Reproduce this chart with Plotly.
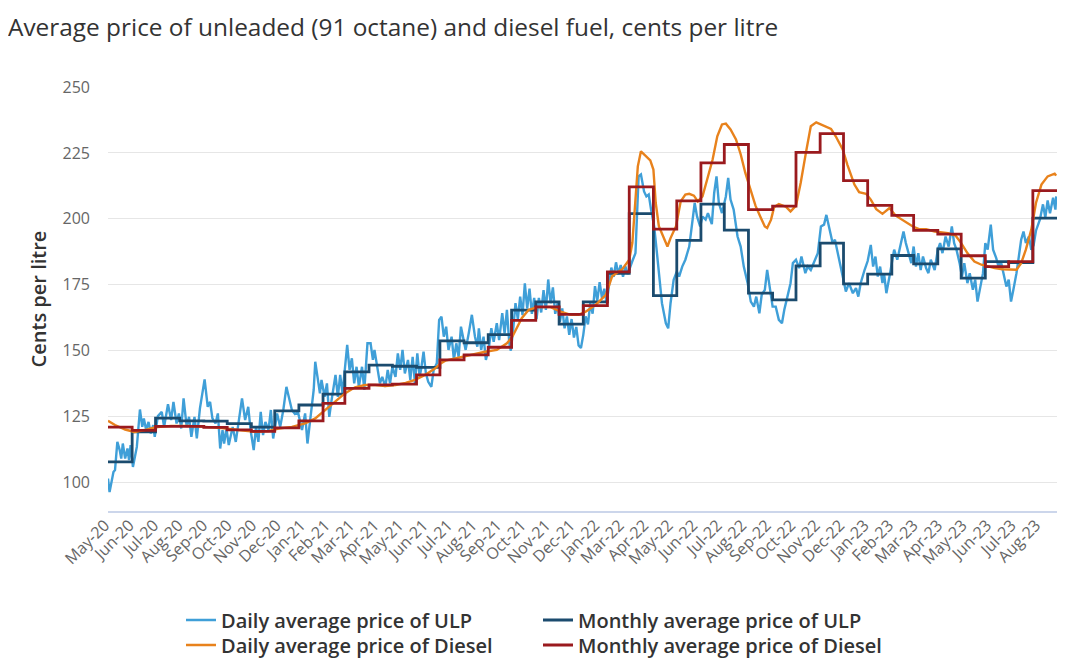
import numpy as np
import pandas as pd
import plotly.graph_objects as go

DAILY_START = "2020-05-01"

# Daily ULP: day number since DAILY_START and price (c/L)
ulp_daily_day = [
    0, 2, 7, 9, 12, 15, 17, 19, 22, 25, 27, 29, 32, 37, 41, 44, 46, 49, 52, 55, 58, 60,
    64, 69, 72, 77, 81, 84, 88, 91, 94, 97, 101, 104, 107, 111, 114, 118, 124, 128, 131,
    134, 138, 141, 144, 147, 149, 152, 155, 160, 164, 168, 172, 176, 180, 183, 187, 190,
    193, 196, 199, 202, 206, 209, 212, 217, 221, 225, 229, 232, 236, 240, 244, 249, 253,
    256, 259, 264, 266, 269, 272, 274, 278, 281, 284, 287, 292, 295, 298, 301, 304, 307,
    310, 313, 316, 319, 322, 326, 329, 333, 337, 340, 342, 346, 349, 352, 356, 359, 362,
    365, 369, 372, 375, 378, 381, 385, 388, 391, 394, 397, 400, 402, 405, 408, 411, 415,
    418, 422, 425, 428, 431, 434, 437, 441, 444, 447, 450, 453, 456, 459, 463, 467, 471,
    474, 476, 479, 482, 485, 489, 492, 495, 499, 502, 506, 509, 512, 515, 517, 520, 523,
    526, 529, 532, 535, 538, 541, 544, 547, 550, 553, 556, 559, 562, 565, 568, 571, 574,
    577, 580, 583, 586, 589, 592, 595, 598, 601, 604, 607, 610, 613, 616, 619, 622, 625,
    628, 631, 634, 637, 640, 643, 646, 649, 652, 655, 658, 661, 664, 667, 670, 673, 677,
    681, 684, 688, 691, 694, 697, 701, 705, 708, 711, 716, 719, 722, 726, 730, 733, 737,
    741, 746, 750, 753, 756, 760, 763, 767, 770, 775, 778, 781, 784, 788, 793, 796, 799,
    803, 808, 812, 816, 821, 825, 829, 832, 836, 839, 843, 846, 849, 853, 857, 861, 865,
    868, 872, 876, 879, 883, 887, 890, 895, 898, 902, 906, 911, 915, 919, 922, 926, 930,
    933, 938, 943, 947, 951, 956, 960, 963, 966, 971, 975, 979, 982, 985, 988, 991, 994,
    996, 999, 1003, 1006, 1009, 1013, 1018, 1021, 1024, 1028, 1031, 1034, 1037, 1040,
    1043, 1046, 1050, 1053, 1056, 1061, 1065, 1068, 1071, 1075, 1079, 1083, 1086, 1089,
    1093, 1096, 1099, 1103, 1106, 1110, 1113, 1116, 1119, 1123, 1126, 1129, 1133, 1136,
    1140, 1143, 1146, 1149, 1153, 1156, 1159, 1162, 1166, 1169, 1172, 1175, 1178, 1182,
    1185, 1188, 1191, 1196, 1200, 1203, 1206, 1209, 1213, 1216, 1217,
]
ulp_daily_price = [
    101.5, 96.4, 104.0, 104.7, 115.4, 112.3, 109.1, 114.8, 109.1, 112.9, 108.5, 114.2,
    105.9, 113.5, 127.7, 121.1, 124.3, 119.9, 123.0, 118.6, 121.8, 117.3, 125.2, 126.8,
    121.1, 129.7, 123.7, 130.6, 122.4, 126.2, 120.5, 131.9, 121.1, 124.9, 117.3, 124.9,
    116.7, 128.1, 139.1, 128.7, 130.6, 124.3, 122.4, 126.2, 112.9, 119.9, 114.8, 120.5,
    114.2, 121.1, 115.4, 123.0, 131.9, 123.7, 128.7, 119.9, 112.3, 121.1, 115.4, 126.8,
    118.0, 123.0, 119.9, 127.5, 116.7, 126.2, 121.1, 127.5, 136.3, 132.5, 127.5, 126.0,
    126.5, 119.9, 126.2, 114.8, 122.4, 135.1, 145.8, 140.1, 133.8, 138.9, 132.5, 137.6,
    124.9, 131.3, 140.8, 132.5, 140.8, 133.8, 142.7, 152.2, 142.7, 147.1, 137.6, 143.9,
    136.3, 143.9, 135.1, 152.8, 152.8, 146.5, 150.3, 142.7, 137.6, 140.1, 136.3, 142.7,
    137.6, 143.9, 140.1, 149.0, 142.7, 150.3, 141.4, 146.5, 138.9, 147.7, 137.6, 149.0,
    140.1, 143.2, 149.6, 141.4, 138.2, 136.3, 142.7, 145.2, 161.7, 162.9, 155.3, 159.1,
    150.3, 155.3, 146.5, 152.8, 147.7, 159.1, 154.1, 150.3, 156.6, 163.6, 155.3, 151.5,
    158.5, 150.3, 155.3, 146.5, 151.5, 158.5, 153.4, 160.4, 154.0, 164.2, 156.6, 165.5,
    153.0, 150.0, 158.0, 168.0, 162.0, 170.5, 163.5, 175.5, 166.0, 173.5, 164.0, 170.0,
    162.0, 170.0, 164.5, 173.0, 165.5, 177.0, 168.0, 174.0, 164.0, 168.0, 161.0, 166.0,
    158.5, 163.0, 156.0, 162.0, 155.0, 159.0, 152.0, 151.0, 156.0, 163.0, 160.0, 168.0,
    164.0, 174.5, 169.0, 176.0, 170.0, 173.5, 168.0, 176.0, 181.5, 178.0, 183.5, 179.0,
    182.5, 178.0, 182.0, 179.0, 182.0, 184.0, 187.0, 216.1, 216.8, 210.4, 208.5, 209.2,
    203.5, 197.1, 185.7, 175.6, 168.0, 160.4, 158.5, 168.0, 176.9, 180.0, 178.1, 181.9,
    184.5, 189.5, 198.4, 206.0, 200.9, 197.1, 200.9, 199.7, 202.2, 198.0, 209.8, 216.1,
    206.0, 202.2, 208.5, 215.5, 207.3, 203.5, 193.3, 189.5, 181.9, 175.6, 168.6, 166.7,
    170.5, 164.2, 171.2, 173.1, 180.6, 174.3, 166.7, 166.7, 161.7, 160.4, 165.5, 170.5,
    175.6, 183.2, 184.5, 181.3, 185.7, 179.4, 181.9, 180.6, 183.2, 187.0, 197.1, 197.8,
    201.5, 195.9, 190.8, 192.1, 185.7, 178.1, 172.4, 175.6, 171.8, 173.7, 170.5, 175.6,
    180.6, 184.0, 190.1, 181.9, 185.7, 178.1, 181.9, 175.6, 179.4, 171.8, 178.1, 183.2,
    188.3, 184.5, 190.8, 195.2, 190.8, 187.0, 183.2, 189.5, 181.9, 187.0, 180.6, 185.7,
    181.3, 179.4, 184.5, 180.6, 188.3, 190.8, 187.0, 193.3, 189.5, 197.1, 190.8, 188.3,
    183.2, 178.1, 183.2, 175.6, 179.4, 173.1, 176.9, 168.6, 173.1, 179.4, 190.8, 188.3,
    197.8, 188.3, 185.1, 181.9, 183.8, 179.4, 174.3, 176.9, 168.6, 173.1, 179.4, 185.7,
    192.1, 195.2, 190.8, 193.3, 188.3, 190.0, 195.5, 199.7, 205.5, 200.5, 207.0, 202.1,
    208.0, 203.5, 208.5,
]

# Daily diesel: day number since DAILY_START and price (c/L)
diesel_daily_day = [
    0, 9, 22, 34, 47, 60, 81, 103, 124, 146, 167, 189, 206, 219, 236, 253, 266, 279, 292,
    304, 317, 330, 343, 356, 369, 382, 394, 407, 420, 427, 433, 446, 459, 471, 484, 499,
    512, 519, 525, 531, 540, 551, 568, 581, 594, 604, 613, 626, 639, 647, 660, 669, 673,
    677, 680, 684, 690, 696, 700, 703, 707, 714, 718, 722, 729, 735, 741, 746, 752, 757,
    763, 769, 776, 782, 788, 793, 799, 806, 812, 818, 825, 831, 838, 843, 846, 851, 855,
    861, 870, 876, 883, 889, 896, 902, 909, 915, 928, 934, 943, 949, 958, 964, 973, 979,
    986, 994, 1003, 1011, 1022, 1033, 1041, 1050, 1061, 1069, 1078, 1088, 1095, 1103,
    1112, 1121, 1129, 1138, 1148, 1159, 1166, 1172, 1178, 1185, 1191, 1198, 1206, 1215,
    1217,
]
diesel_daily_price = [
    123.4, 121.8, 120.1, 119.2, 119.9, 120.9, 121.5, 121.5, 121.1, 120.7, 119.9, 119.2,
    119.5, 120.5, 121.1, 122.4, 124.3, 127.5, 130.6, 133.8, 136.1, 137.0, 137.0, 136.6,
    137.0, 137.8, 138.9, 140.8, 143.3, 145.2, 146.2, 147.1, 148.0, 148.7, 149.6, 150.3,
    152.8, 155.3, 159.1, 162.3, 165.5, 166.5, 166.5, 164.8, 163.6, 163.6, 164.8, 167.4,
    171.2, 178.2, 180.9, 184.5, 190.9, 208.5, 219.9, 225.6, 224.0, 222.2, 218.7, 206.0,
    197.2, 192.1, 189.5, 192.7, 197.2, 206.6, 209.2, 209.5, 208.8, 206.6, 208.5, 214.9,
    222.5, 231.3, 235.8, 236.1, 233.9, 230.1, 224.5, 217.4, 211.1, 205.0, 200.3, 197.1,
    196.5, 199.7, 204.5, 205.6, 204.6, 202.8, 205.0, 213.6, 225.5, 235.1, 236.6, 235.8,
    234.1, 231.3, 226.3, 220.5, 213.0, 210.1, 209.5, 207.3, 203.7, 201.9, 204.1, 201.2,
    199.0, 197.1, 196.1, 196.1, 195.2, 194.8, 194.6, 193.6, 190.8, 187.0, 183.8, 182.6,
    181.9, 181.3, 180.9, 180.7, 180.7, 183.2, 188.3, 195.9, 206.0, 213.0, 216.1, 217.1,
    216.4,
]

# Monthly averages, May 2020 .. Aug 2023
MONTH_START = "2020-05-01"
ulp_monthly = [
    107.8, 119.2, 124.4, 123.4, 123.3, 122.3, 121.0, 127.2,
    129.4, 133.5, 142.0, 144.5, 144.1, 143.7, 153.7, 153.0, 156.1, 165.4, 168.5, 160.1,
    168.5, 179.3, 202.0, 170.9, 191.8, 205.6, 195.7, 171.8, 169.3, 182.2, 190.8, 175.3,
    179.0, 186.1, 182.9, 188.6, 177.5, 183.8, 183.4, 200.3,
]
diesel_monthly = [
    121.0, 119.8, 121.3, 121.3, 120.9, 120.0, 119.4, 120.7,
    123.4, 130.0, 135.7, 137.0, 137.3, 140.8, 146.5, 148.4, 151.3, 161.5, 166.6, 163.8,
    167.1, 179.9, 212.1, 196.1, 206.8, 221.2, 228.2, 203.5, 204.8, 225.2, 232.3, 214.5,
    205.1, 201.3, 195.6, 194.2, 186.0, 181.9, 183.8, 210.7,
]

tick_labels = [
    "May-20", "Jun-20", "Jul-20", "Aug-20", "Sep-20", "Oct-20", "Nov-20", "Dec-20",
    "Jan-21", "Feb-21", "Mar-21", "Apr-21", "May-21", "Jun-21", "Jul-21", "Aug-21",
    "Sep-21", "Oct-21", "Nov-21", "Dec-21", "Jan-22", "Mar-22", "Apr-22", "May-22",
    "Jun-22", "Jul-22", "Aug-22", "Sep-22", "Oct-22", "Nov-22", "Dec-22", "Jan-23",
    "Feb-23", "Mar-23", "Apr-23", "May-23", "Jun-23", "Jul-23", "Aug-23",
]
y_ticks = [100, 125, 150, 175, 200, 225, 250]

names = [
    "Daily average price of ULP",
    "Monthly average price of ULP",
    "Daily average price of Diesel",
    "Monthly average price of Diesel",
]
colors = ["#3f9fd8", "#1b4b6e", "#e8821c", "#9a1a1e"]

start = pd.Timestamp(DAILY_START)
ulp_x = start + pd.to_timedelta(ulp_daily_day, unit="D")
diesel_x = start + pd.to_timedelta(diesel_daily_day, unit="D")

months = pd.date_range(MONTH_START, periods=len(ulp_monthly), freq="MS")
month_end = months[-1] + pd.offsets.MonthBegin(1)
step_x = list(months) + [month_end]
ulp_step_y = ulp_monthly + [ulp_monthly[-1]]
diesel_step_y = diesel_monthly + [diesel_monthly[-1]]

fig = go.Figure()
fig.add_trace(go.Scatter(x=ulp_x, y=ulp_daily_price, mode="lines", name=names[0],
                         legend="legend", line=dict(color=colors[0], width=2.4)))
fig.add_trace(go.Scatter(x=step_x, y=ulp_step_y, mode="lines", name=names[1],
                         legend="legend", line=dict(color=colors[1], width=2.8, shape="hv")))
fig.add_trace(go.Scatter(x=diesel_x, y=diesel_daily_price, mode="lines", name=names[2],
                         legend="legend2", line=dict(color=colors[2], width=2.4)))
fig.add_trace(go.Scatter(x=step_x, y=diesel_step_y, mode="lines", name=names[3],
                         legend="legend2", line=dict(color=colors[3], width=2.8, shape="hv")))

tick_first = pd.Timestamp("2020-05-02")
tick_vals = tick_first + pd.to_timedelta(np.arange(len(tick_labels)) * 31.45, unit="D")

W, H = 1060, 654  # page body keeps an 8px margin, so the figure fills the rest
legend_common = dict(orientation="h", xref="container", x=173 / W, xanchor="left",
                     yref="container", yanchor="middle",
                     entrywidth=312, entrywidthmode="pixels", itemwidth=30,
                     font=dict(family="Open Sans", size=20, color="#333333", weight=600),
                     traceorder="normal", bgcolor="rgba(0,0,0,0)")
fig.update_layout(
    width=W, height=H,
    margin=dict(l=100, r=11, t=79, b=151, autoexpand=False),
    paper_bgcolor="white", plot_bgcolor="white",
    font=dict(family="Open Sans", color="#333333"),
    title=dict(text="Average price of unleaded (91 octane) and diesel fuel, cents per litre",
               xref="container", x=0.0, xanchor="left",
               yref="container", y=1 - 19 / H, yanchor="middle",
               font=dict(family="Open Sans", size=24.4, color="#333333")),
    showlegend=True,
    legend=dict(legend_common, y=1 - 612 / H),
    legend2=dict(legend_common, y=1 - 637 / H),
)
fig.update_xaxes(
    type="date", range=[start, month_end],
    tickmode="array", tickvals=tick_vals, ticktext=tick_labels, tickangle=-45,
    tickfont=dict(family="Open Sans", size=16, color="#666666"),
    ticklabelshift=-4, ticklabelstandoff=-3,
    showgrid=False, zeroline=False, showline=True, linecolor="#ccd6eb", linewidth=1.5,
    ticks="",
)
fig.update_yaxes(
    range=[89.2, 250], tickmode="array", tickvals=y_ticks,
    tickfont=dict(family="Open Sans", size=16, color="#666666"),
    ticklabelstandoff=17,
    showgrid=True, gridcolor="#e6e6e6", gridwidth=1, zeroline=False, showline=False,
    title=dict(text="Cents per litre", standoff=10,
               font=dict(family="Open Sans", size=20, color="#333333", weight=600)),
)

fig.write_html("out.html")
